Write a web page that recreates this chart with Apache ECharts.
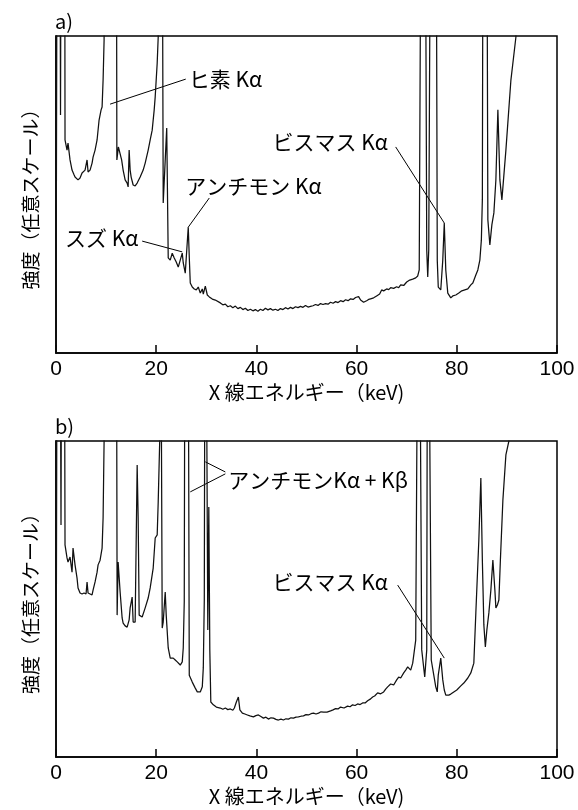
<!DOCTYPE html>
<html><head><meta charset="utf-8">
<script src="https://cdn.jsdelivr.net/npm/echarts@6/dist/echarts.min.js"></script>
<style>html,body{margin:0;padding:0;background:#fff;}#c{width:578px;height:810px;}</style>
</head><body><div id="c"></div>
<script>
// ---- data (keV, intensity in arbitrary units; >100 = off scale) ----
var tickValues = [0, 20, 40, 60, 80, 100];
var xTitle = 'X 線エネルギー（keV)';
var yTitle = '強度（任意スケール）';
var panelLabels = ['a)', 'b)'];

var aEnergy = [0,0.3,0.7,0.9,1.1,1.7,1.8,2.2,2.4,2.8,3.2,3.6,3.8,4.4,4.8,5.2,5.4,5.8,6.0,6.2,6.4,6.8,7.2,7.4,7.8,8.2,8.6,9.0,9.2,9.4,9.6,9.7,
 12.0,12.15,12.45,13.1,13.4,13.8,14.2,14.4,14.6,14.8,15.0,15.4,15.8,16.2,16.8,17.4,17.8,18.4,18.8,19.2,19.6,19.8,20.2,20.4,20.5,
 21.1,21.4,22.1,22.4,22.8,23.2,23.6,24.0,24.4,24.8,25.2,25.4,25.8,26.1,26.4,26.6,26.8,27.2,27.6,28.0,28.4,28.8,29.2,29.4,29.8,30.2,30.6,31.2,31.8,
 32.8,33.3,33.8,34.3,34.8,35.3,35.8,36.3,36.8,37.3,37.8,38.3,38.8,39.3,39.8,40.3,40.8,41.3,41.8,42.3,42.8,43.3,43.8,44.3,44.8,45.3,45.8,46.3,46.8,47.3,47.8,48.3,48.8,49.3,49.8,50.3,50.8,51.3,51.8,52.3,52.8,53.3,53.8,54.3,54.8,55.3,55.8,56.3,56.8,57.3,57.8,58.3,58.8,59.3,59.8,60.4,60.8,61.4,62.0,62.4,62.8,63.4,64.0,64.6,65.0,65.4,66.0,66.4,66.8,67.4,68.0,68.4,68.8,69.4,70.0,70.6,71.2,71.8,72.2,72.5,
 73.0,73.6,74.0,74.2,74.4,74.9,75.8,76.1,76.3,76.8,77.2,77.5,77.8,78.2,78.8,79.2,79.8,80.4,81.0,81.6,82.2,82.8,83.2,83.8,84.2,84.6,84.9,85.1,85.3,85.9,
 86.2,86.6,87.0,87.4,87.8,88.2,88.6,89.0,89.2,89.8,90.8,91.8,92.0,100];
var aIntensity = [0,200,200,75.1,200,200,67.2,64.0,66.2,60.9,57.7,56.2,55.5,54.6,55.2,56.8,56.2,57.7,57.1,60.9,57.1,57.7,59.9,61.8,64.0,67.2,73.5,76.7,77.6,86.1,98.7,200,
 200,60.9,65.0,60.9,57.7,54.6,53.6,52.4,64.0,57.7,55.5,53.0,52.7,53.6,55.5,57.7,59.9,64.0,67.2,70.3,76.7,80.8,91.5,99.7,200,
 200,47.3,71.0,30.0,29.3,31.5,30.0,28.7,27.1,29.3,31.5,28.4,25.2,32.5,39.7,30.3,22.1,20.8,20.2,19.9,20.8,18.9,20.2,18.6,21.1,18.3,17.7,17.0,16.7,
 15.8,15.2,15.4,14.6,14.9,14.3,14.8,14.0,14.4,13.7,14.1,13.4,13.8,13.3,13.7,13.2,13.8,13.4,14.1,13.6,14.0,13.5,13.8,13.4,14.0,13.7,14.3,13.9,14.4,14.0,14.6,14.3,14.7,14.4,15.0,14.5,14.7,14.9,15.3,15.0,15.6,15.3,15.6,15.4,16.0,15.7,16.2,15.9,16.5,16.2,16.8,16.5,17.1,16.9,17.5,17.8,16.7,16.0,16.5,16.9,17.1,17.4,18.0,18.6,19.9,19.6,20.2,20.0,20.6,20.4,20.9,20.6,21.5,21.3,22.4,23.0,23.3,23.7,24.3,26.2,
 200,200,32.5,24.0,32.5,200,200,29.3,20.8,19.9,29.3,41.0,26.2,18.9,17.4,18.0,18.3,18.9,19.6,19.9,20.2,21.5,22.1,24.6,26.2,29.3,35.6,48.3,200,200,
 42.0,34.1,40.4,44.2,54.6,76.7,54.6,48.3,48.6,64.0,86.1,99.7,200,200];

var bEnergy = [0,0.3,0.7,1.0,1.2,1.6,1.8,2.2,2.4,2.8,3.2,3.4,3.8,4.2,4.4,4.8,5.2,5.6,6.0,6.2,6.4,6.8,7.2,7.4,7.8,8.2,8.4,8.8,9.2,9.4,9.6,9.7,
 12.0,12.2,12.4,12.8,13.2,13.4,13.8,14.2,14.6,14.8,15.2,15.4,15.8,16.2,16.4,16.6,17.2,17.8,18.4,18.8,19.4,19.8,20.2,20.4,20.7,20.8,
 21.0,21.2,21.4,21.8,22.0,22.4,22.8,23.4,23.8,24.2,24.8,25.2,25.4,25.6,25.8,26.3,26.6,27.2,27.4,27.8,28.2,28.8,29.2,29.4,29.6,29.8,
 30.1,30.3,30.5,30.7,30.9,31.4,32.0,32.8,33.3,33.8,34.3,34.8,35.3,35.6,36.0,36.4,36.7,37.2,37.7,38.2,38.7,39.4,39.9,40.4,40.9,41.4,41.9,42.4,42.9,43.4,43.9,44.4,44.9,45.4,45.9,46.4,46.9,47.4,47.9,48.4,48.9,49.4,49.9,50.4,50.9,51.4,51.9,52.4,52.9,53.4,54.1,54.8,55.3,55.8,56.3,56.8,57.5,58.2,58.7,59.2,59.7,60.2,60.7,61.2,61.7,62.2,62.8,63.2,63.6,64.2,64.8,65.4,65.8,66.2,66.8,67.4,68.0,68.4,68.8,69.4,69.8,70.2,70.8,71.2,71.8,72.4,72.7,
 73.0,73.6,74.0,74.2,74.4,74.9,75.8,76.1,76.3,76.8,77.2,77.5,77.8,78.0,78.4,78.8,79.4,80.0,80.8,81.4,82.2,82.8,83.4,83.8,84.4,84.8,85.1,85.4,85.7,86.0,
 86.4,86.8,87.2,87.6,87.8,88.1,88.4,88.7,89.2,89.8,90.4,91.0,91.4,91.6,100];
var bIntensity = [0,200,200,73.4,200,200,67.1,63.0,61.7,63.3,58.5,66.1,60.8,56.6,53.5,51.9,51.6,51.9,51.6,55.4,51.9,51.6,51.3,52.8,55.4,58.5,60.8,62.3,66.1,75.6,100,200,
 200,44.9,61.7,52.2,44.0,42.4,41.5,41.1,43.4,47.2,50.6,42.7,42.7,92.4,75.6,44.9,44.3,47.2,50.3,53.5,59.8,69.3,70.3,80.7,100,200,
 200,40.8,42.7,52.2,44.9,34.5,31.3,31.3,30.7,30.1,29.1,30.1,34.5,49.1,200,200,25.9,23.7,23.4,21.8,20.6,20.6,22.2,28.2,49.7,200,
 200,40.2,79.1,33.9,17.4,16.5,15.8,15.5,15.1,15.5,15.0,15.2,14.8,15.5,17.4,19.0,14.9,13.9,13.6,13.3,13.0,12.7,13.1,13.3,12.8,12.3,12.6,12.0,12.4,12.3,11.9,11.7,12.0,11.7,12.1,12.0,12.4,12.3,12.6,12.7,12.9,13.0,13.4,13.3,13.7,13.9,13.6,13.9,14.3,14.2,14.2,14.6,14.9,15.3,15.2,15.8,15.5,16.1,15.9,16.5,16.3,16.8,16.6,17.1,17.1,17.8,18.4,19.0,19.3,20.3,20.0,20.6,21.5,22.2,23.1,22.8,24.4,25.3,25.0,26.6,27.5,28.5,27.5,29.7,37.0,
 200,200,33.9,25.3,33.9,200,200,30.7,22.2,20.6,25.9,31.3,24.4,21.2,19.6,19.0,19.6,19.9,20.6,21.2,22.5,23.4,25.0,26.6,29.7,45.6,68.7,88.3,62.3,41.8,
 34.8,40.2,45.6,52.8,62.3,52.8,47.2,48.1,49.7,62.3,81.3,95.6,100,200,200];

// annotations: text anchor (left-middle) and leader lines, in data coords
var annA = [
  {text:'ヒ素 Kα', at:[26.5,86.4], lines:[[[25.9,86.4],[10.8,78.5]]]},
  {text:'ビスマス Kα', at:[43.2,66.6], lines:[[[67.8,65.0],[77.5,41.0]]]},
  {text:'アンチモン Kα', at:[25.8,52.7], lines:[[[30.6,48.9],[26.4,39.7]]]},
  {text:'スズ Kα', at:[1.8,36.3], lines:[[[17.2,35.3],[25.2,31.9]]]}
];
var annB = [
  {text:'アンチモンKα + Kβ', at:[34.4,87.7], lines:[[[33.8,90.2],[29.8,93.4]],[[33.8,89.6],[26.8,83.9]]]},
  {text:'ビスマス Kα', at:[43.2,55.4], lines:[[[68.2,54.4],[77.5,31.3]]]}
];

function pairs(xs, ys){ return xs.map(function(x,i){ return [x, ys[i]]; }); }

var JP = '"Noto Sans CJK JP", "Noto Sans", sans-serif';
var grids = [
  {left:56, top:36, width:501, height:317},
  {left:56, top:441, width:501, height:316}
];
var chart = echarts.init(document.getElementById('c'), null, {renderer:'canvas'});
var xAxes = [], yAxes = [];
grids.forEach(function(g, i){
  g.show = true; g.borderColor = '#000'; g.borderWidth = 1.5; g.backgroundColor = 'rgba(0,0,0,0)';
  xAxes.push({gridIndex:i, type:'value', min:tickValues[0], max:tickValues[tickValues.length-1], interval:20,
    axisLine:{show:true, lineStyle:{color:'#000', width:1.5}},
    axisTick:{show:true, inside:true, length:8, lineStyle:{color:'#000', width:1.5}},
    axisLabel:{show:true, color:'#000', fontSize:21, margin:6, fontFamily:'"Liberation Sans", Arial, sans-serif'},
    splitLine:{show:false},
    name:xTitle, nameLocation:'middle', nameGap:29,
    nameTextStyle:{color:'#000', fontSize:20, fontFamily:JP}});
  yAxes.push({gridIndex:i, type:'value', min:0, max:100,
    axisLine:{show:true, lineStyle:{color:'#000', width:1.5}},
    axisTick:{show:false}, axisLabel:{show:false}, splitLine:{show:false},
    name:yTitle, nameLocation:'middle', nameRotate:90, nameGap:16,
    nameTextStyle:{color:'#000', fontSize:19, fontFamily:JP}});
});
var seriesStyle = {type:'line', showSymbol:false, symbol:'none', clip:true, animation:false,
  lineStyle:{color:'#111', width:1.25}};
chart.setOption({
  animation:false,
  backgroundColor:'#fff',
  grid:grids, xAxis:xAxes, yAxis:yAxes,
  series:[
    Object.assign({xAxisIndex:0, yAxisIndex:0, data:pairs(aEnergy, aIntensity)}, seriesStyle),
    Object.assign({xAxisIndex:1, yAxisIndex:1, data:pairs(bEnergy, bIntensity)}, seriesStyle)
  ]
});

var g = [];
[annA, annB].forEach(function(list, gi){
  list.forEach(function(an){
    var p = chart.convertToPixel({gridIndex:gi}, an.at);
    g.push({type:'text', x:p[0], y:p[1], silent:true,
      style:{text:an.text, fill:'#000', font:'21px ' + JP, textAlign:'left', textVerticalAlign:'middle'}});
    an.lines.forEach(function(l){
      var p1 = chart.convertToPixel({gridIndex:gi}, l[0]);
      var p2 = chart.convertToPixel({gridIndex:gi}, l[1]);
      g.push({type:'line', silent:true, shape:{x1:p1[0], y1:p1[1], x2:p2[0], y2:p2[1]},
        style:{stroke:'#000', lineWidth:1}});
    });
  });
});
panelLabels.forEach(function(t, i){
  g.push({type:'text', x:grids[i].left - 1, y:grids[i].top - 15, silent:true,
    style:{text:t, fill:'#000', font:'20px ' + JP, textAlign:'left', textVerticalAlign:'middle'}});
});
chart.setOption({graphic:g});
</script></body></html>
